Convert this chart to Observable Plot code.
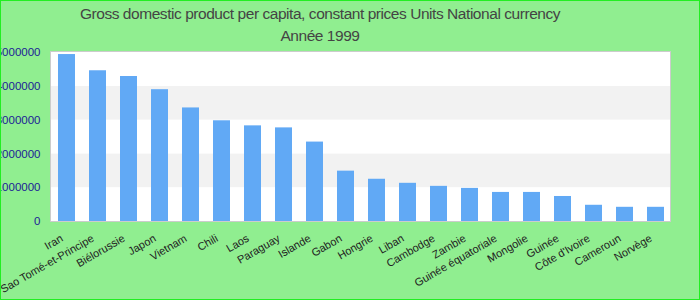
<!DOCTYPE html>
<html>
<head>
<meta charset="utf-8">
<script src="https://cdn.jsdelivr.net/npm/d3@7"></script>
<script src="https://cdn.jsdelivr.net/npm/@observablehq/plot@0.6"></script>
<style>
  html, body { margin: 0; padding: 0; }
  #chart {
    position: relative; width: 700px; height: 300px; box-sizing: border-box;
    border: 1px solid #22ee22; background: #90ee90; overflow: hidden;
    font-family: "Liberation Sans", Arial, sans-serif;
  }
  #title {
    width: 638px; height: 44px; text-align: center; color: #444;
    font-size: 15.5px; letter-spacing: -0.45px; line-height: 21.5px; padding-top: 2px; box-sizing: border-box;
  }
  #chart svg { background: transparent; display: block; }
</style>
</head>
<body>
<div id="chart">
  <div id="title">Gross domestic product per capita, constant prices Units National currency<br>Année 1999</div>
</div>
<script>
const countries = ["Iran", "Sao Tomé-et-Principe", "Biélorussie", "Japon", "Vietnam", "Chili", "Laos", "Paraguay", "Islande", "Gabon", "Hongrie", "Liban", "Cambodge", "Zambie", "Guinée équatoriale", "Mongolie", "Guinée", "Côte d'Ivoire", "Cameroun", "Norvège"];
const values = [4940000, 4460000, 4290000, 3900000, 3360000, 2980000, 2830000, 2770000, 2350000, 1490000, 1250000, 1130000, 1040000, 980000, 860000, 860000, 740000, 480000, 420000, 420000];
const yTicks = [0, 1000000, 2000000, 3000000, 4000000, 5000000];

const data = countries.map((c, i) => ({country: c, value: values[i]}));
const bands = yTicks.slice(0, -1).map((t, i) => ({y1: t, y2: yTicks[i + 1], shade: i % 2 === 1}));

const chart = Plot.plot({
  width: 698,
  height: 254,
  marginTop: 6,
  marginBottom: 78,
  marginLeft: 49,
  marginRight: 29,
  style: {fontFamily: "'Liberation Sans', Arial, sans-serif", background: "transparent", overflow: "hidden"},
  x: {type: "band", domain: countries, paddingInner: 0.45, paddingOuter: 0.225, align: 0.57, label: null},
  y: {domain: [0, 5030000], label: null},
  marks: [
    Plot.frame({fill: "white", stroke: "none"}),
    Plot.rect(bands, {y1: "y1", y2: "y2", fill: d => d.shade ? "#f2f2f2" : "white"}),
    Plot.barY(data, {x: "country", y: "value", fill: "#61a9f5"}),
    Plot.frame({stroke: "#cccccc", strokeWidth: 1}),
    Plot.axisY({ticks: yTicks, tickFormat: d => String(d), tickSize: 0, tickPadding: 10, fontSize: 11.5, fill: "#1c1c96", label: null}),
    Plot.axisX({tickSize: 0, tickRotate: -30, tickPadding: 16, dx: -5, fontSize: 11, fill: "#222", label: null})
  ]
});
document.getElementById("chart").appendChild(chart);
</script>
</body>
</html>
